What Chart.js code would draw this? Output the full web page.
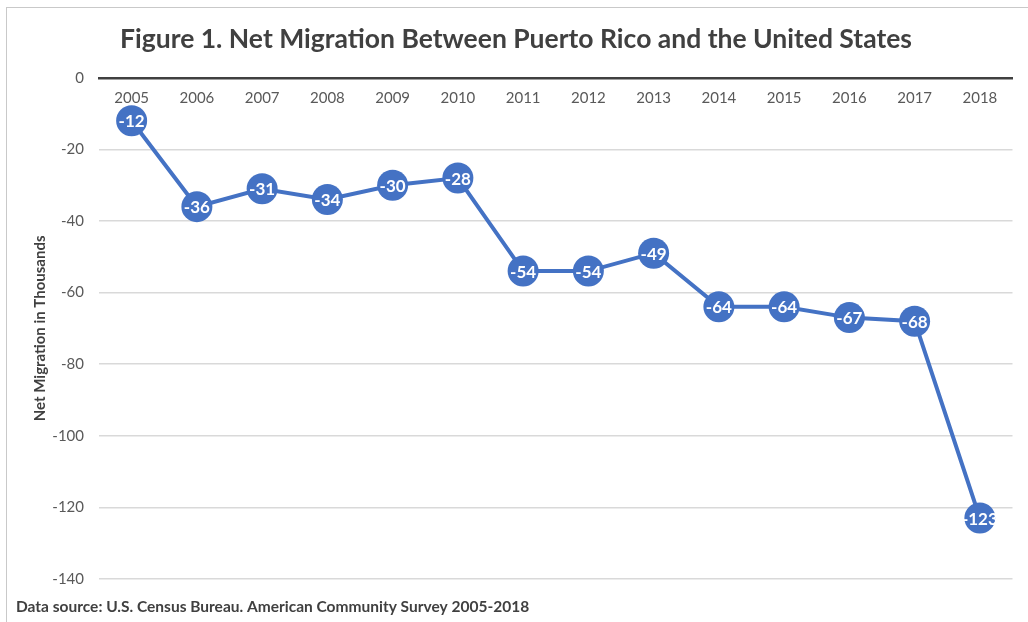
<!DOCTYPE html>
<html>
<head>
<meta charset="utf-8">
<script src="https://cdn.jsdelivr.net/npm/chart.js@4.4.1/dist/chart.umd.min.js"></script>
<style>
  html, body { margin: 0; padding: 0; background: #ffffff; overflow: hidden; }
  #wrap { position: relative; width: 1028px; height: 622px; }
  #frame { position: absolute; left: 6px; top: 7px; width: 1100px; height: 700px; border: 1px solid #c9c9c9; box-sizing: border-box; }
  #chart { position: absolute; left: 0; top: 0; }
</style>
</head>
<body>
<div id="wrap">
  <div id="frame"></div>
  <canvas id="chart" width="1028" height="622"></canvas>
</div>
<script>
// Years and net migration (thousands) between Puerto Rico and the U.S.
const years = ['2005', '2006', '2007', '2008', '2009', '2010', '2011', '2012', '2013', '2014', '2015', '2016', '2017', '2018'];
const netMigration = [-12, -36, -31, -34, -30, -28, -54, -54, -49, -64, -64, -67, -68, -123];
const yTicks = [0, -20, -40, -60, -80, -100, -120, -140];

const FONT = 'Lato, "Open Sans", sans-serif';
const BLUE = '#4472C4';

// Writes each value in white on top of its marker
const pointValueLabels = {
  id: 'pointValueLabels',
  afterDatasetsDraw(chart) {
    const ctx = chart.ctx;
    const meta = chart.getDatasetMeta(0);
    ctx.save();
    ctx.font = 'bold 17px ' + FONT;
    ctx.fillStyle = '#ffffff';
    ctx.textAlign = 'center';
    ctx.textBaseline = 'middle';
    meta.data.forEach((pt, i) => {
      ctx.fillText(String(chart.data.datasets[0].data[i]), pt.x, pt.y + 1);
    });
    ctx.restore();
  }
};

new Chart(document.getElementById('chart'), {
  type: 'line',
  data: {
    labels: years,
    datasets: [{
      data: netMigration,
      borderColor: BLUE,
      borderWidth: 4,
      backgroundColor: BLUE,
      pointBackgroundColor: BLUE,
      pointBorderWidth: 0,
      pointRadius: 15.5,
      pointHoverRadius: 15.5,
      tension: 0,
      clip: false
    }]
  },
  options: {
    responsive: false,
    animation: false,
    devicePixelRatio: 1,
    layout: { padding: { left: 16, right: 12, top: 0, bottom: 0 } },
    plugins: {
      legend: { display: false },
      tooltip: { enabled: false },
      title: {
        display: true,
        text: 'Figure 1. Net Migration Between Puerto Rico and the United States',
        color: '#404040',
        font: { family: FONT, size: 26.5, weight: 'bold', lineHeight: 1.2 },
        padding: { top: 24, bottom: 22 }
      },
      subtitle: {
        display: true,
        position: 'bottom',
        align: 'start',
        text: 'Data source: U.S. Census Bureau. American Community Survey 2005-2018',
        color: '#404040',
        font: { family: FONT, size: 15.5, weight: 'bold', lineHeight: 1.2 },
        padding: { top: 18.5, bottom: 6 }
      }
    },
    scales: {
      x: {
        type: 'category',
        position: { y: 0 },
        offset: true,
        grid: { display: false, drawTicks: false },
        border: { display: true, color: '#404040', width: 2.5 },
        ticks: {
          color: '#595959',
          font: { family: FONT, size: 15 },
          padding: 11,
          maxRotation: 0,
          autoSkip: false
        }
      },
      y: {
        min: -140,
        max: 0,
        afterFit(scale) { scale.width = 83; },
        afterBuildTicks(scale) { scale.ticks = yTicks.map(v => ({ value: v })); },
        grid: {
          drawTicks: false,
          lineWidth: 1.5,
          color: (c) => (c.tick && c.tick.value === 0) ? 'rgba(0,0,0,0)' : '#d9d9d9'
        },
        border: { display: false },
        ticks: {
          color: '#595959',
          font: { family: FONT, size: 15 },
          padding: 15
        },
        title: {
          display: true,
          text: 'Net Migration in Thousands',
          color: '#404040',
          font: { family: FONT, size: 15, weight: 'bold', lineHeight: 1.2 },
          padding: { top: 15, bottom: 0 }
        }
      }
    }
  },
  plugins: [pointValueLabels]
});
</script>
</body>
</html>
